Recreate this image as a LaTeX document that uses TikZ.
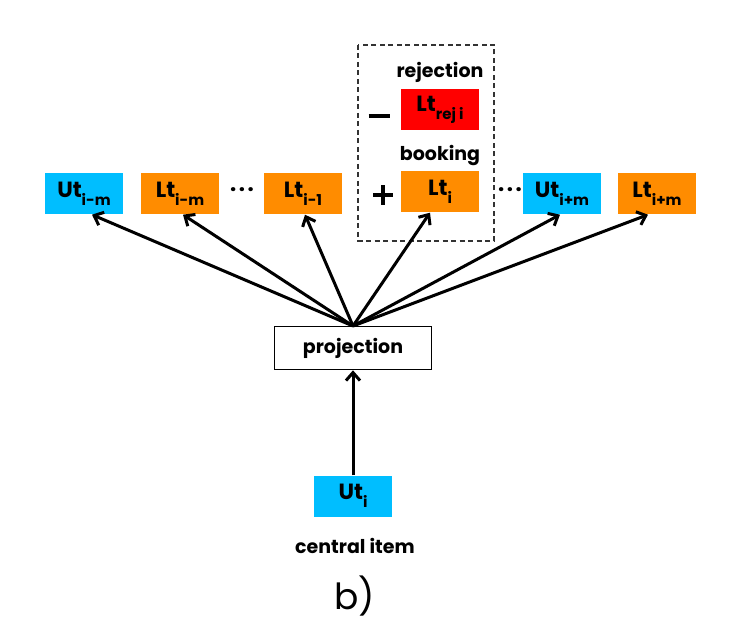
\documentclass[tikz,border=0pt]{standalone}
\usepackage{fontspec}
\setmainfont{Poppins}
\usetikzlibrary{arrows.meta}
\definecolor{cyanbox}{RGB}{0,190,255}
\definecolor{orangebox}{RGB}{255,140,0}
\definecolor{redbox}{RGB}{255,0,0}
\newcommand{\subtxt}[1]{\raisebox{-0.35em}{\fontsize{15}{15}\selectfont\bfseries #1}}
\newcommand{\threedots}{.\hspace{2.5pt}.\hspace{2.5pt}.}
\begin{document}
\begin{tikzpicture}[x=1pt,y=-1pt,
  box/.style={minimum width=78pt,minimum height=41pt,inner sep=0pt,font=\fontsize{22}{22}\selectfont\bfseries},
  ubox/.style={box,fill=cyanbox},
  lbox/.style={box,fill=orangebox},
  rbox/.style={box,fill=redbox},
  lbl/.style={font=\fontsize{19}{19}\selectfont\bfseries,inner sep=0pt},
  dotsl/.style={font=\fontsize{22}{22}\selectfont\bfseries,inner sep=0pt},
  arr/.style={line width=3pt,-{Straight Barb[length=8pt,width=14pt,line width=3pt]}}
]
\useasboundingbox (0,0) rectangle (740,631);
\node[ubox] (utim) at (84,194) {Ut\subtxt{i-m}};
\node[lbox] (ltim) at (180,194) {Lt\subtxt{i-m}};
\node[dotsl] (dots1) at (242,190) {\threedots};
\node[lbox] (lti1) at (303,194) {Lt\subtxt{i-1}};
\node[lbl] (rejl) at (440,72) {rejection};
\node[rbox] (ltrej) at (440,110) {Lt\subtxt{rej i}};
\node[inner sep=0pt] (minus) at (379,116) {\rule{21pt}{3.2pt}};
\node[lbl] (bookl) at (440,156) {booking};
\node[lbox] (lti) at (440,192) {Lt\subtxt{i}};
\node[inner sep=0pt] (plus) at (379,195) {\rule{20pt}{3.4pt}\hspace{-20pt}\hspace{8.3pt}\rule[-8.3pt]{3.4pt}{20pt}\hspace{8.3pt}};
\node[dotsl] (dots2) at (510,190) {\threedots};
\node[ubox] (utip) at (562,194) {Ut\subtxt{i+m}};
\node[lbox] (ltip) at (657,194) {Lt\subtxt{i+m}};
\draw[line width=1.3pt,dash pattern=on 5pt off 3.5pt,black!80] (358,45) rectangle (494,241);
\node[draw,line width=1.6pt,minimum width=157pt,minimum height=43pt,inner sep=0pt,font=\fontsize{19}{19}\selectfont\bfseries] (proj) at (353,348) {projection};
\node[ubox] (uti) at (353,496) {Ut\subtxt{i}};
\node[lbl] (central) at (355,546) {central item};
\node[inner sep=0pt,font=\fontsize{36}{36}\selectfont] (b) at (355,596) {b)};
\coordinate (top) at (353,326);
\draw[arr] (top) -- ([xshift=8pt]utim.south);
\draw[arr] (top) -- ([xshift=3pt]ltim.south);
\draw[arr] (top) -- ([xshift=2pt]lti1.south);
\draw[arr] (top) -- ([xshift=-10pt]lti.south);
\draw[arr] (top) -- ([xshift=-2pt]utip.south);
\draw[arr] (top) -- ([xshift=-9pt]ltip.south);
\draw[arr] (uti.north) -- (proj.south);
\end{tikzpicture}
\end{document}
